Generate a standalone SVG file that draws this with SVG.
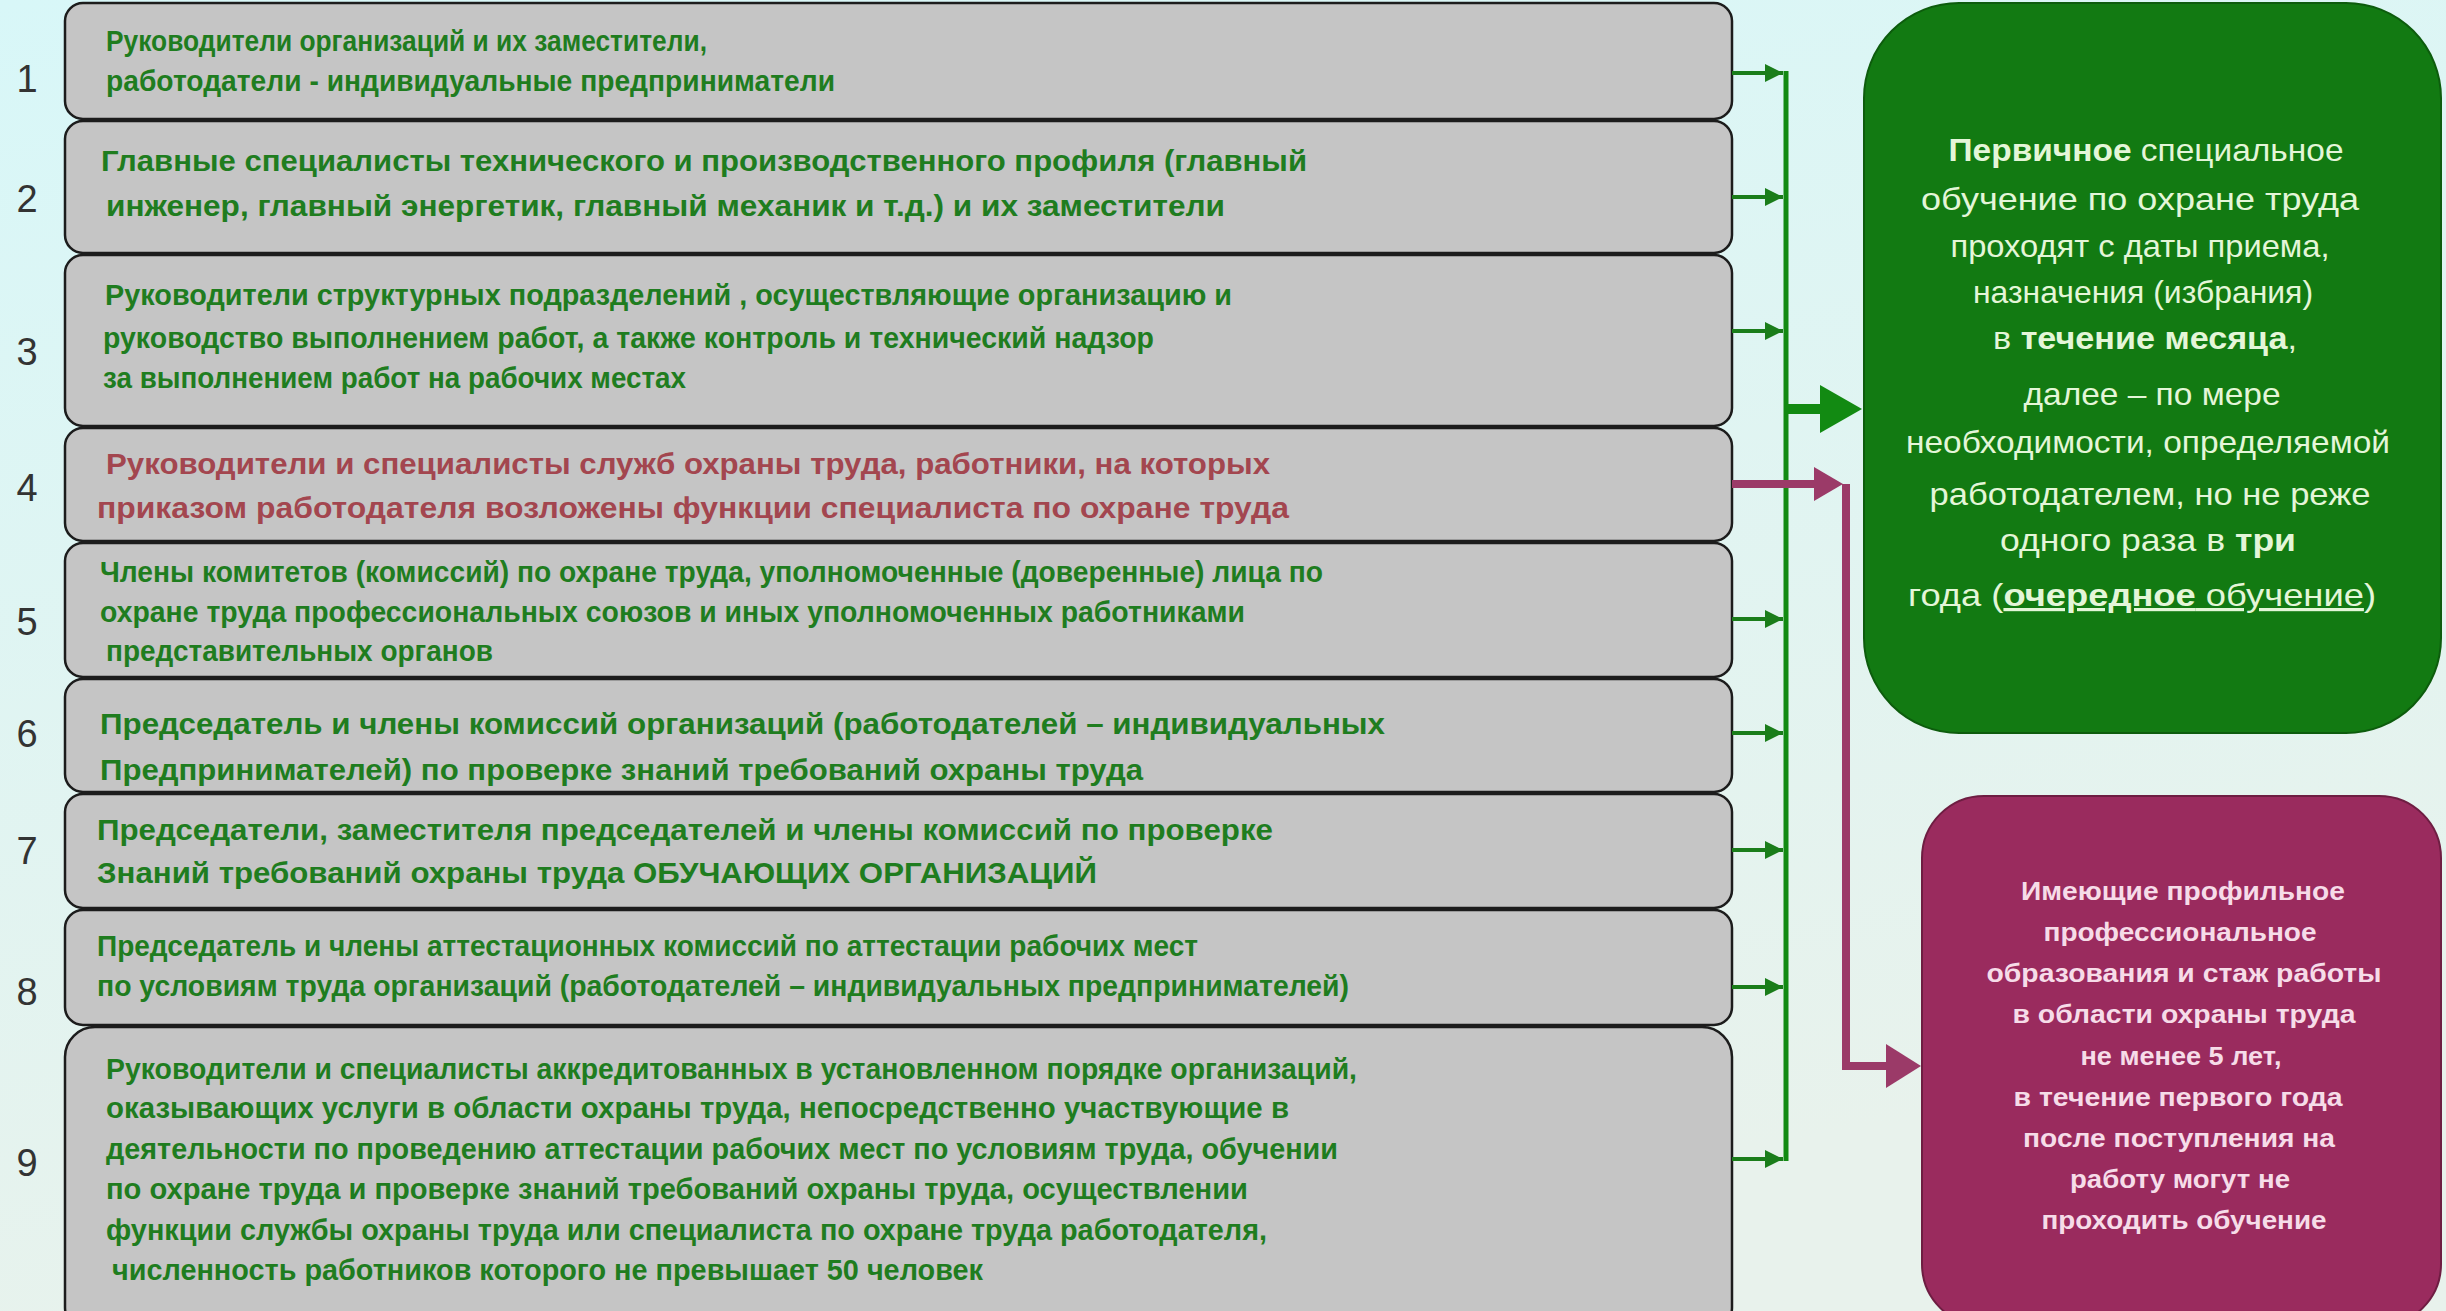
<svg xmlns="http://www.w3.org/2000/svg" width="2446" height="1311" viewBox="0 0 2446 1311">
<defs>
<linearGradient id="bg" x1="0" y1="0" x2="0.3" y2="1">
<stop offset="0" stop-color="#d8f7f8"/>
<stop offset="1" stop-color="#e8f2ec"/>
</linearGradient>
<marker id="ga" viewBox="0 0 10 10" refX="10" refY="5" markerWidth="4.5" markerHeight="4.5" orient="auto" markerUnits="strokeWidth">
<path d="M0,0 L10,5 L0,10 z" fill="#1a7d1a"/>
</marker>
</defs>
<style>
.row{fill:#c5c5c5;stroke:#1c1c1c;stroke-width:2.5}
.t{font-family:"Liberation Sans",Arial,sans-serif;font-weight:bold;font-size:30px;fill:#1f7d1f}
.tr{fill:#a3464f}
.num{font-family:"Liberation Sans",Arial,sans-serif;font-size:38px;fill:#333;text-anchor:middle}
.gt{font-family:"Liberation Sans",Arial,sans-serif;font-size:32px;fill:#e4f6d8;text-anchor:middle}
.pt{font-family:"Liberation Sans",Arial,sans-serif;font-weight:bold;font-size:26px;fill:#f6dce8;text-anchor:middle}
.b{font-weight:bold}
.gl{stroke:#1a7d1a;stroke-width:4;fill:none}
.ml{stroke:#9b3a68;stroke-width:8;fill:none}
</style>
<rect x="0" y="0" width="2446" height="1311" fill="url(#bg)"/>

<g id="row1">
<rect class="row" x="65" y="3" width="1667" height="116" rx="18"/>
<text class="num" x="27" y="92">1</text>
<text class="t" x="106" y="51" textLength="601" lengthAdjust="spacingAndGlyphs">Руководители организаций и их заместители,</text>
<text class="t" x="106" y="91" textLength="729" lengthAdjust="spacingAndGlyphs">работодатели - индивидуальные предприниматели</text>
</g>
<g id="row2">
<rect class="row" x="65" y="121" width="1667" height="132" rx="18"/>
<text class="num" x="27" y="212">2</text>
<text class="t" x="101" y="171" textLength="1206" lengthAdjust="spacingAndGlyphs">Главные специалисты технического и производственного профиля (главный</text>
<text class="t" x="106" y="216" textLength="1119" lengthAdjust="spacingAndGlyphs">инженер, главный энергетик,  главный механик и т.д.) и их  заместители</text>
</g>
<g id="row3">
<rect class="row" x="65" y="255" width="1667" height="171" rx="18"/>
<text class="num" x="27" y="365">3</text>
<text class="t" x="105" y="305" textLength="1127" lengthAdjust="spacingAndGlyphs">Руководители структурных подразделений , осуществляющие организацию  и</text>
<text class="t" x="103" y="348" textLength="1051" lengthAdjust="spacingAndGlyphs">руководство выполнением работ, а также контроль  и технический надзор</text>
<text class="t" x="103" y="388" textLength="583" lengthAdjust="spacingAndGlyphs">за выполнением работ на рабочих местах</text>
</g>
<g id="row4">
<rect class="row" x="65" y="428" width="1667" height="113" rx="18"/>
<text class="num" x="27" y="501">4</text>
<text class="t tr" x="106" y="474" textLength="1164" lengthAdjust="spacingAndGlyphs">Руководители и специалисты служб охраны труда, работники, на которых</text>
<text class="t tr" x="97" y="518" textLength="1192" lengthAdjust="spacingAndGlyphs">приказом работодателя возложены  функции специалиста по охране труда</text>
</g>
<g id="row5">
<rect class="row" x="65" y="543" width="1667" height="134" rx="18"/>
<text class="num" x="27" y="635">5</text>
<text class="t" x="100" y="582" textLength="1223" lengthAdjust="spacingAndGlyphs">Члены комитетов (комиссий) по охране труда, уполномоченные (доверенные) лица по</text>
<text class="t" x="100" y="622" textLength="1145" lengthAdjust="spacingAndGlyphs">охране труда  профессиональных союзов и иных уполномоченных работниками</text>
<text class="t" x="106" y="661" textLength="387" lengthAdjust="spacingAndGlyphs">представительных органов</text>
</g>
<g id="row6">
<rect class="row" x="65" y="679" width="1667" height="113" rx="18"/>
<text class="num" x="27" y="747">6</text>
<text class="t" x="100" y="734" textLength="1285" lengthAdjust="spacingAndGlyphs">Председатель и члены комиссий организаций (работодателей – индивидуальных</text>
<text class="t" x="100" y="780" textLength="1043" lengthAdjust="spacingAndGlyphs">Предпринимателей) по проверке знаний требований охраны труда</text>
</g>
<g id="row7">
<rect class="row" x="65" y="794" width="1667" height="114" rx="18"/>
<text class="num" x="27" y="864">7</text>
<text class="t" x="97" y="840" textLength="1176" lengthAdjust="spacingAndGlyphs">Председатели, заместителя председателей и члены комиссий по проверке</text>
<text class="t" x="97" y="883" textLength="1000" lengthAdjust="spacingAndGlyphs">Знаний требований охраны труда ОБУЧАЮЩИХ ОРГАНИЗАЦИЙ</text>
</g>
<g id="row8">
<rect class="row" x="65" y="910" width="1667" height="115" rx="18"/>
<text class="num" x="27" y="1005">8</text>
<text class="t" x="97" y="956" textLength="1101" lengthAdjust="spacingAndGlyphs">Председатель и члены аттестационных комиссий по аттестации рабочих мест</text>
<text class="t" x="97" y="996" textLength="1252" lengthAdjust="spacingAndGlyphs">по условиям труда организаций (работодателей – индивидуальных предпринимателей)</text>
</g>
<g id="row9">
<rect class="row" x="65" y="1027" width="1667" height="310" rx="30"/>
<text class="num" x="27" y="1176">9</text>
<text class="t" x="106" y="1079" textLength="1251" lengthAdjust="spacingAndGlyphs">Руководители и специалисты аккредитованных в установленном порядке организаций,</text>
<text class="t" x="106" y="1118" textLength="1183" lengthAdjust="spacingAndGlyphs">оказывающих услуги в области охраны труда, непосредственно  участвующие в</text>
<text class="t" x="106" y="1159" textLength="1232" lengthAdjust="spacingAndGlyphs">деятельности  по проведению аттестации  рабочих  мест  по условиям труда, обучении</text>
<text class="t" x="106" y="1199" textLength="1142" lengthAdjust="spacingAndGlyphs">по охране труда и проверке знаний требований  охраны труда,   осуществлении</text>
<text class="t" x="106" y="1240" textLength="1161" lengthAdjust="spacingAndGlyphs">функции службы  охраны труда или специалиста  по охране труда работодателя,</text>
<text class="t" x="112" y="1280" textLength="871" lengthAdjust="spacingAndGlyphs">численность работников  которого  не  превышает  50 человек</text>
</g>

<g id="green-box">
<rect x="1864" y="3" width="577" height="730" rx="95" fill="#127a12" stroke="#0d5c0d" stroke-width="2"/>
<text class="gt" x="2146" y="161" textLength="395" lengthAdjust="spacingAndGlyphs"><tspan class="b">Первичное</tspan> специальное</text>
<text class="gt" x="2140" y="210" textLength="438" lengthAdjust="spacingAndGlyphs">обучение по охране труда</text>
<text class="gt" x="2140" y="257" textLength="379" lengthAdjust="spacingAndGlyphs">проходят с даты приема,</text>
<text class="gt" x="2143" y="303" textLength="340" lengthAdjust="spacingAndGlyphs">назначения (избрания)</text>
<text class="gt" x="2145" y="349" textLength="304" lengthAdjust="spacingAndGlyphs">в <tspan class="b">течение  месяца</tspan>,</text>
<text class="gt" x="2152" y="405" textLength="257" lengthAdjust="spacingAndGlyphs">далее – по мере</text>
<text class="gt" x="2148" y="453" textLength="484" lengthAdjust="spacingAndGlyphs">необходимости, определяемой</text>
<text class="gt" x="2150" y="505" textLength="441" lengthAdjust="spacingAndGlyphs">работодателем, но не  реже</text>
<text class="gt" x="2148" y="551" textLength="296" lengthAdjust="spacingAndGlyphs">одного  раза в <tspan class="b">три</tspan></text>
<text class="gt" x="2142" y="606" textLength="468" lengthAdjust="spacingAndGlyphs">года (<tspan class="b" text-decoration="underline">очередное</tspan><tspan text-decoration="underline"> обучение</tspan>)</text>
</g>

<g id="pink-box">
<rect x="1922" y="796" width="519" height="530" rx="62" fill="#9a2b5e" stroke="#6e1d42" stroke-width="2"/>
<text class="pt" x="2183" y="900" textLength="324" lengthAdjust="spacingAndGlyphs">Имеющие профильное</text>
<text class="pt" x="2180" y="941" textLength="273" lengthAdjust="spacingAndGlyphs">профессиональное</text>
<text class="pt" x="2184" y="982" textLength="395" lengthAdjust="spacingAndGlyphs">образования и стаж работы</text>
<text class="pt" x="2184" y="1023" textLength="343" lengthAdjust="spacingAndGlyphs">в области охраны труда</text>
<text class="pt" x="2181" y="1065" textLength="201" lengthAdjust="spacingAndGlyphs">не менее 5 лет,</text>
<text class="pt" x="2178" y="1106" textLength="329" lengthAdjust="spacingAndGlyphs">в течение первого года</text>
<text class="pt" x="2179" y="1147" textLength="312" lengthAdjust="spacingAndGlyphs">после поступления на</text>
<text class="pt" x="2180" y="1188" textLength="220" lengthAdjust="spacingAndGlyphs">работу могут не</text>
<text class="pt" x="2184" y="1229" textLength="285" lengthAdjust="spacingAndGlyphs">проходить обучение</text>
</g>

<g id="connectors">
<line x1="1786" y1="71" x2="1786" y2="1161" stroke="#128a12" stroke-width="5"/>
<line class="gl" x1="1732" y1="73" x2="1783" y2="73" marker-end="url(#ga)"/>
<line class="gl" x1="1732" y1="197" x2="1783" y2="197" marker-end="url(#ga)"/>
<line class="gl" x1="1732" y1="331" x2="1783" y2="331" marker-end="url(#ga)"/>
<line class="gl" x1="1732" y1="619" x2="1783" y2="619" marker-end="url(#ga)"/>
<line class="gl" x1="1732" y1="733" x2="1783" y2="733" marker-end="url(#ga)"/>
<line class="gl" x1="1732" y1="850" x2="1783" y2="850" marker-end="url(#ga)"/>
<line class="gl" x1="1732" y1="987" x2="1783" y2="987" marker-end="url(#ga)"/>
<line class="gl" x1="1732" y1="1159" x2="1783" y2="1159" marker-end="url(#ga)"/>
<path d="M1786,404 H1820 V385 L1862,409 L1820,433 V414 H1786 Z" fill="#128a12"/>
<path class="ml" d="M1732,484 H1818"/>
<path d="M1814,467 L1843,484 L1814,501 Z" fill="#9b3a68"/>
<path class="ml" d="M1846,484 V1066 H1892"/>
<path d="M1886,1044 L1921,1066 L1886,1088 Z" fill="#9b3a68"/>
</g>
</svg>
